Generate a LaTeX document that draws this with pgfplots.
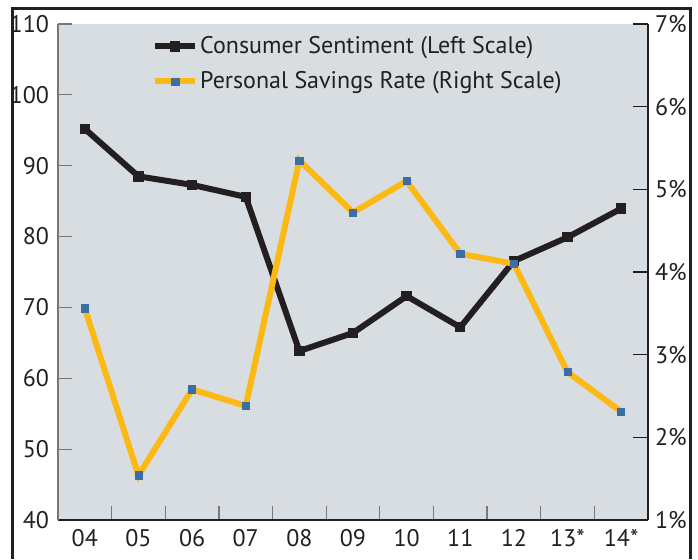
\documentclass[border=0pt]{standalone}
\usepackage{fontspec}
\setmainfont{PT Sans}
\usepackage{pgfplots}
\pgfplotsset{compat=1.18}
\definecolor{bg}{RGB}{216,221,225}
\definecolor{sent}{RGB}{35,31,32}
\definecolor{sav}{RGB}{253,185,19}
\definecolor{mk}{RGB}{58,110,165}
\definecolor{axgray}{RGB}{120,120,120}
\begin{document}
\begin{tikzpicture}
\useasboundingbox (-29pt,-19.5pt) rectangle (320pt,260pt);
\draw[line width=1.5pt, color=sent] (-22.5pt,-19.5pt) -- (-22.5pt,256pt) -- (316pt,256pt) -- (316pt,-19.5pt);
\begin{axis}[
  scale only axis, width=295pt, height=248pt,
  xmin=-0.5, xmax=10.5, ymin=40, ymax=110,
  axis y line*=left, axis x line*=bottom,
  ytick={40,50,...,110},
  xtick={0.5,1.5,...,9.5}, xticklabels={},
  extra x ticks={0,...,10},
  extra x tick labels={04,05,06,07,08,09,10,11,12,13*,14*},
  extra x tick style={major tick length=0pt},
  major tick length=7pt,
  tick align=inside,
  tick style={color=axgray, line width=0.6pt},
  axis background/.style={fill=bg},
  y axis line style={draw=axgray, line width=0.8pt},
  x axis line style={draw=sent, line width=0.8pt},
  ticklabel style={font=\fontsize{12}{14}\selectfont, text=sent},
  /pgf/number format/assume math mode=true,
  yticklabel style={xshift=-1pt},
  xticklabel style={yshift=-1pt},
  clip=false,
]
\addplot[color=sent, line width=3pt, mark=square*, mark size=1.1pt, mark options={solid, fill=sent}] coordinates {
(0,95.2) (1,88.5) (2,87.3) (3,85.6) (4,63.85) (5,66.4) (6,71.6) (7,67.2) (8,76.55) (9,79.9) (10,83.95)
};
\end{axis}
\begin{axis}[
  scale only axis, width=295pt, height=248pt,
  xmin=-0.5, xmax=10.5, ymin=1, ymax=7,
  axis y line*=right, axis x line=none,
  ytick={1,...,7},
  yticklabel={\pgfmathprintnumber{\tick}\%},
  major tick length=7.5pt,
  tick align=inside,
  tick style={color=sent, line width=0.6pt},
  y axis line style={draw=sent, line width=0.8pt},
  ticklabel style={font=\fontsize{12}{14}\selectfont, text=sent},
  /pgf/number format/assume math mode=true,
  yticklabel style={xshift=0pt},
  clip=false,
  legend cell align=left,
  legend style={draw=none, fill=none, at={(axis description cs:0.159,0.98)}, anchor=north west,
    font=\fontsize{12}{14}\selectfont, inner sep=0pt, row sep=5.5pt,
    nodes={inner sep=1pt, text=sent}},
  legend image code/.code={\draw[mark repeat=2,mark phase=2,#1] plot coordinates {(0pt,0pt)(10pt,0pt)(20pt,0pt)};},
]
\addlegendimage{color=sent, line width=3pt, mark=square*, mark size=1.1pt, mark options={solid, fill=sent}}
\addlegendentry{Consumer Sentiment (Left Scale)}
\addplot[color=sav, line width=3pt, mark=square*, mark size=1.8pt, mark options={solid, draw=mk, fill=mk, line width=0.3pt}] coordinates {
(0,3.56) (1,1.54) (2,2.58) (3,2.38) (4,5.35) (5,4.72) (6,5.10) (7,4.22) (8,4.10) (9,2.79) (10,2.31)
};
\addlegendentry{Personal Savings Rate (Right Scale)}
\end{axis}
\end{tikzpicture}
\end{document}
